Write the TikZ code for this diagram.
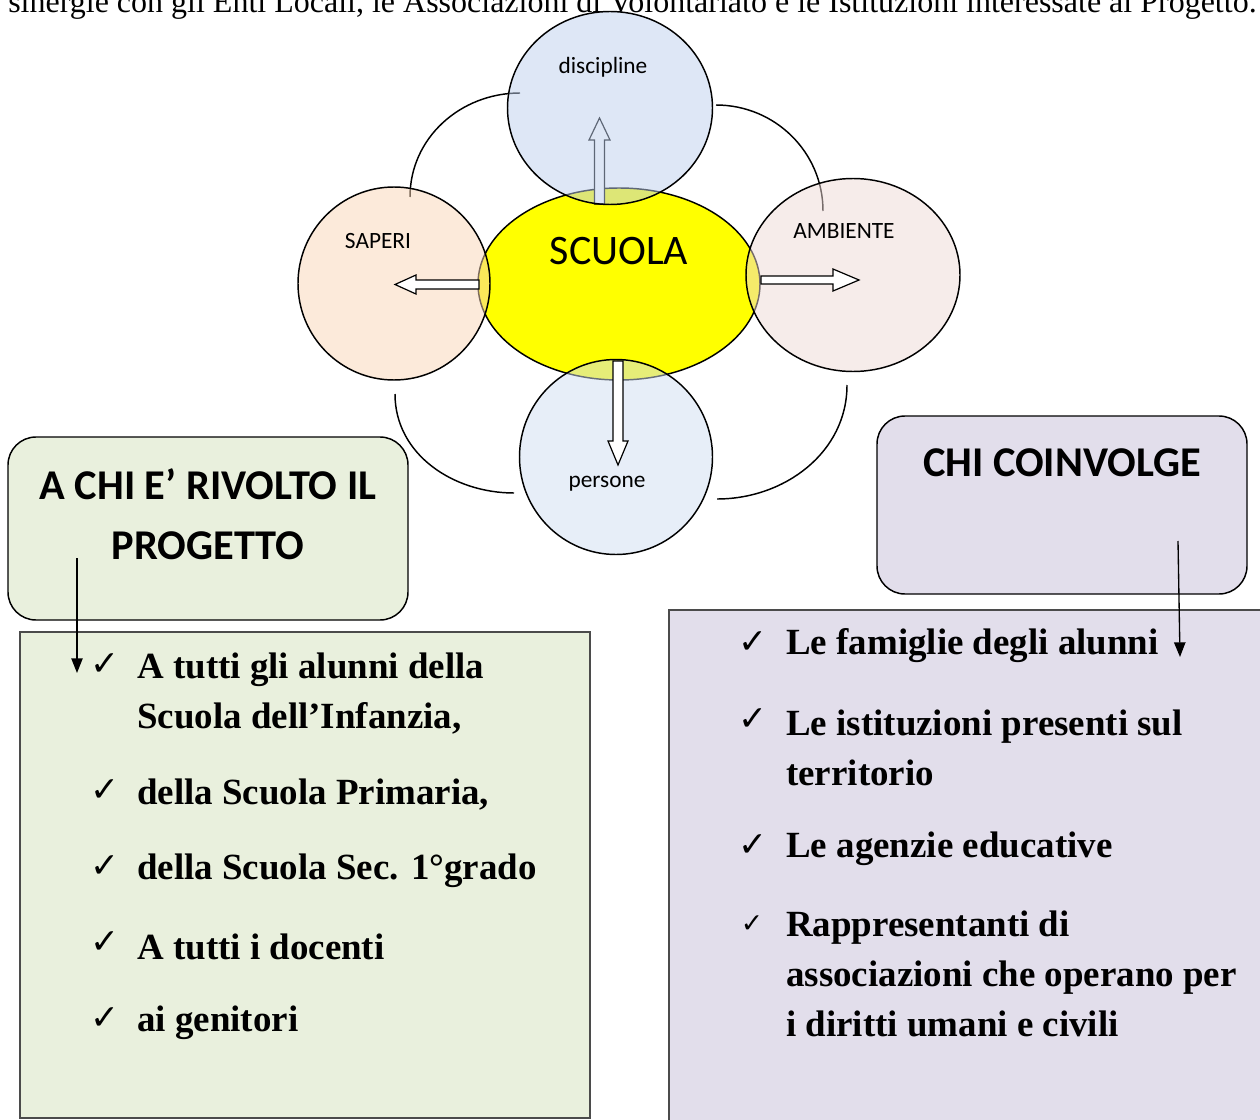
\documentclass[tikz,border=0pt]{standalone}
\usepackage{fontspec}
\setmainfont{Liberation Serif}
\newfontfamily\calibri{Carlito}
\newfontfamily\symfont{DejaVu Sans}
\usetikzlibrary{arrows.meta,shapes.geometric}

\definecolor{giallo}{HTML}{FFFF00}
\definecolor{azzurro}{RGB}{189,207,237}
\definecolor{celeste}{RGB}{207,221,241}
\definecolor{pesca}{RGB}{249,213,181}
\definecolor{rosato}{RGB}{237,217,213}
\definecolor{verdino}{RGB}{233,240,221}
\definecolor{lilla}{RGB}{226,222,235}
\definecolor{bordo}{RGB}{75,75,75}

\newcommand\spunta{{\symfont ✓}}

\begin{document}
\begin{tikzpicture}[
  x=0.75pt, y=-0.75pt,
  bubble/.style={ellipse, draw=black, line width=1.1pt, inner sep=0pt, outer sep=0pt,
    fill opacity=0.5, draw opacity=1},
  ring/.style={draw=black, line width=1.1pt},
  blockarr/.style={draw=black, fill=white, line width=0.9pt, line join=miter},
  lbl/.style={font=\calibri\fontsize{17.5}{21}\selectfont, inner sep=0pt},
  headbox/.style={draw=black, line width=1.1pt, rounded corners=21pt, inner sep=0pt},
  listbox/.style={draw=bordo, line width=0.8pt, inner sep=0pt},
  head/.style={font=\calibri\bfseries\fontsize{31.8}{45}\selectfont, align=center, inner sep=0pt},
  item/.style={anchor=west, align=left, inner sep=0pt, font=\bfseries\fontsize{27.7}{37.5}\selectfont},
  tick/.style={inner sep=0pt, font=\fontsize{26}{27}\selectfont},
  pointer/.style={-{Triangle[length=11pt,width=8.5pt]}, line width=1pt, draw=black}
]
  \useasboundingbox (0,0) rectangle (1260,1120);

  \node[anchor=base west, inner sep=0pt, font=\fontsize{24}{28}\selectfont] (intro) at (8,13)
    {sinergie con gli Enti Locali, le Associazioni di Volontariato e le Istituzioni interessate al Progetto.};

  \draw[ring] (410,197) to[out=90,in=180] (520,93);
  \draw[ring] (716,105) to[out=0,in=90] (823,211);
  \draw[ring] (395,394) to[out=-90,in=180] (514,493);
  \draw[ring] (847,385) to[out=-90,in=0] (717,499);

  \node[ellipse, draw=black, line width=1.1pt, fill=giallo, inner sep=0pt,
    minimum width=211.5pt, minimum height=144pt] (scuola) at (619,284) {};

  \draw[blockarr] (594.5,204) -- (594.5,140) -- (589,140) -- (599.5,118)
    -- (610,140) -- (604.5,140) -- (604.5,204) -- cycle;

  \node[bubble, fill=azzurro, minimum width=153.75pt, minimum height=144.75pt] (discipline) at (610,108) {};
  \node[bubble, fill=pesca, minimum width=144pt, minimum height=144.75pt] (saperi) at (394,283.5) {};
  \node[bubble, fill=rosato, minimum width=160.5pt, minimum height=144.75pt] (ambiente) at (853,275) {};
  \node[bubble, fill=celeste, minimum width=144.75pt, minimum height=146.25pt] (persone) at (616,457) {};

  \draw[blockarr] (479,280) -- (416,280) -- (416,275) -- (395,284.5)
    -- (416,294) -- (416,289) -- (479,289) -- cycle;
  \draw[blockarr] (761,276) -- (833,276) -- (833,269) -- (859,280)
    -- (833,291) -- (833,284) -- (761,284) -- cycle;
  \draw[blockarr] (613,361) -- (613,441) -- (608,441) -- (618,465)
    -- (628,441) -- (623,441) -- (623,361) -- cycle;

  \node[lbl, font=\calibri\fontsize{31.5}{34}\selectfont] (scuolaTxt) at (619,251) {SCUOLA};
  \node[lbl] (disciplineTxt) at (603,67) {discipline};
  \node[lbl] (saperiTxt) at (378,241) {SAPERI};
  \node[lbl] (ambienteTxt) at (844,231) {AMBIENTE};
  \node[lbl] (personeTxt) at (607,484) {persone};

  \node[headbox, fill=verdino, minimum width=300pt, minimum height=137.25pt] (rivoltoBox) at (208,528.5) {};
  \node[headbox, fill=lilla, minimum width=277.5pt, minimum height=133.5pt] (coinvolgeBox) at (1062,505) {};
  \node[head] (rivoltoTxt) at (208,514) {A CHI E’ RIVOLTO IL\\PROGETTO};
  \node[head] (coinvolgeTxt) at (1062,463) {CHI COINVOLGE};

  \node[listbox, fill=verdino, minimum width=427.5pt, minimum height=364.5pt] (rivoltoList) at (305,875) {};
  \node[listbox, fill=lilla, minimum width=454.5pt, minimum height=393.75pt] (coinvolgeList) at (972,872.5) {};

  \node[tick] (lt1) at (105,665) {\spunta};
  \node[tick] (lt2) at (105,791) {\spunta};
  \node[tick] (lt3) at (105,867) {\spunta};
  \node[tick] (lt4) at (105,943) {\spunta};
  \node[tick] (lt5) at (105,1019) {\spunta};
  \node[item] (li1) at (137,694) {A tutti gli alunni della\\Scuola dell’Infanzia,};
  \node[item] (li2) at (137,795) {della Scuola Primaria,};
  \node[item] (li3) at (137,871) {della Scuola Sec. 1°grado};
  \node[item] (li4) at (137,947) {A tutti i docenti};
  \node[item] (li5) at (137,1023) {ai genitori};

  \node[tick] (rt1) at (753,643) {\spunta};
  \node[tick] (rt2) at (753,720) {\spunta};
  \node[tick] (rt3) at (753,846) {\spunta};
  \node[tick, font=\fontsize{20}{21}\selectfont] (rt4) at (752,924) {\spunta};
  \node[item] (ri1) at (786,646) {Le famiglie degli alunni};
  \node[item] (ri2) at (786,748) {Le istituzioni presenti sul\\territorio};
  \node[item] (ri3) at (786,849) {Le agenzie educative};
  \node[item] (ri4) at (786,974) {Rappresentanti di\\associazioni che operano per\\i diritti umani e civili};

  \coordinate (rivoltoFrom) at (77,558);
  \coordinate (rivoltoTo) at (77,673);
  \coordinate (coinvolgeFrom) at (1178,541);
  \coordinate (coinvolgeTo) at (1180,657);
  \draw[pointer] (rivoltoFrom) -- (rivoltoTo);
  \draw[pointer] (coinvolgeFrom) -- (coinvolgeTo);
\end{tikzpicture}
\end{document}
